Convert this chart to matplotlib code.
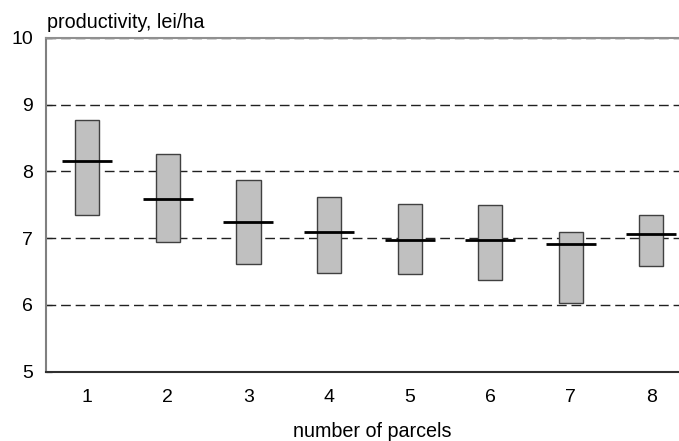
import matplotlib.pyplot as plt

plt.rcParams['font.family'] = ['Liberation Sans', 'DejaVu Sans']

# Data
parcels = [1, 2, 3, 4, 5, 6, 7, 8]
high = [8.77, 8.26, 7.87, 7.62, 7.51, 7.50, 7.10, 7.35]
low = [7.35, 6.94, 6.61, 6.48, 6.46, 6.38, 6.03, 6.59]
mean = [8.16, 7.59, 7.24, 7.10, 6.98, 6.97, 6.91, 7.07]

fig = plt.figure(figsize=(6.79, 4.41), dpi=100)
ax = fig.add_axes([0.068, 0.157, 0.94, 0.757])

box_w = 0.30
line_w = 0.62
for x, lo, hi, m in zip(parcels, low, high, mean):
    ax.bar(x, hi - lo, bottom=lo, width=box_w, color='#c0c0c0',
           edgecolor='#404040', linewidth=1.0, zorder=3)
    ax.hlines(m, x - line_w / 2, x + line_w / 2, color='black',
              linewidth=2.0, zorder=4)

ax.set_ylim(5, 10)
ax.set_xlim(0.49, 8.41)
ax.set_yticks([5, 6, 7, 8, 9, 10])
ax.set_xticks(parcels)
for y in [6, 7, 8, 9, 10]:
    ax.axhline(y, color='#202020', linestyle=(0, (7, 3.5)), linewidth=1.0,
               zorder=2, clip_on=False)

ax.spines['right'].set_visible(False)
ax.spines['top'].set_color('#909090')
ax.spines['top'].set_linewidth(1.5)
ax.spines['left'].set_color('#808080')
ax.spines['left'].set_linewidth(1.5)
ax.spines['bottom'].set_color('#303030')
ax.spines['bottom'].set_linewidth(1.5)
ax.tick_params(axis='y', direction='in', length=4.5, width=1, color='#808080',
               labelsize=14, pad=9.5)
ax.tick_params(axis='x', length=0, labelsize=14, pad=12.5)

fig.text(372 / 679, 4 / 441, 'number of parcels', fontsize=14.2,
         ha='center', va='baseline')
fig.text(47 / 679, 1 - 28 / 441, 'productivity, lei/ha', fontsize=14.2,
         ha='left', va='baseline')

fig.savefig('out.png', dpi=100)
